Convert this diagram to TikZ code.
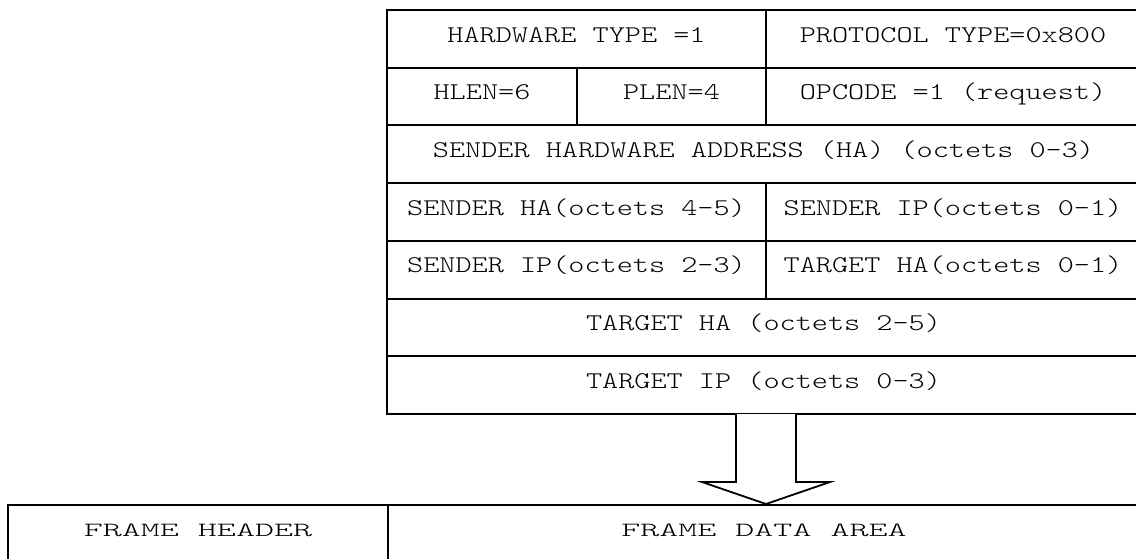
\documentclass[tikz,border=0pt]{standalone}
\usepackage{fontspec}
\newfontfamily\cour[FakeStretch=1.28]{Latin Modern Mono Light}
\newfontfamily\courwide[FakeStretch=1.8]{Latin Modern Mono Light}
\usetikzlibrary{calc}
\tikzset{
  cell/.style={draw=black, line width=1pt, inner sep=0pt, outer sep=0pt,
    anchor=north west, minimum height=28.85pt,
    text height=16pt, text depth=12.85pt,
    font=\cour\fontsize{12pt}{14pt}\selectfont},
  framecell/.style={draw=black, line width=1pt, inner sep=0pt, outer sep=0pt,
    anchor=north west, minimum height=35pt,
    text height=15.5pt, text depth=19.5pt,
    font=\courwide\fontsize{10.07pt}{12pt}\selectfont},
  blockarrow/.style={draw=black, line width=0.9pt, line join=miter, fill=white}
}
\begin{document}
\begin{tikzpicture}[x=0.5pt, y=-0.5pt]
\useasboundingbox (0,0) rectangle (1136,558);
% ARP packet
\node[cell, minimum width=189.5pt] (hwtype) at (387,10) {HARDWARE TYPE =1};
\node[cell, minimum width=187pt]   (prtype) at (766,10) {PROTOCOL TYPE=0x800};
\node[cell, minimum width=95pt]    (hlen)   at (387,67.7) {HLEN=6};
\node[cell, minimum width=94.5pt]  (plen)   at (577,67.7) {PLEN=4};
\node[cell, minimum width=187pt]   (opcode) at (766,67.7) {OPCODE =1 (request)};
\node[cell, minimum width=376.5pt] (sha)    at (387,125.4) {SENDER HARDWARE ADDRESS (HA) (octets 0-3)};
\node[cell, minimum width=189.5pt] (shb)    at (387,183.1) {SENDER HA(octets 4-5)};
\node[cell, minimum width=187pt]   (sipa)   at (766,183.1) {SENDER IP(octets 0-1)};
\node[cell, minimum width=189.5pt] (sipb)   at (387,240.8) {SENDER IP(octets 2-3)};
\node[cell, minimum width=187pt]   (tha)    at (766,240.8) {TARGET HA(octets 0-1)};
\node[cell, minimum width=376.5pt] (thb)    at (387,298.5) {TARGET HA (octets 2-5)};
\node[cell, minimum width=376.5pt] (tip)    at (387,356.2) {TARGET IP (octets 0-3)};
% frame
\node[framecell, minimum width=190pt] (fhead) at (8,505) {FRAME HEADER};
\node[framecell, minimum width=376pt] (fdata) at (388,505) {FRAME DATA AREA};
% block arrow
\coordinate (arrtop) at (766,414);
\coordinate (arrtip) at (766,504);
\draw[blockarrow] ($(arrtop)+(-30,0)$) -- ($(arrtop)+(-30,68)$) -- ($(arrtop)+(-64,68)$)
  -- (arrtip) -- ($(arrtop)+(64,68)$) -- ($(arrtop)+(30,68)$) -- ($(arrtop)+(30,0)$);
\end{tikzpicture}
\end{document}
